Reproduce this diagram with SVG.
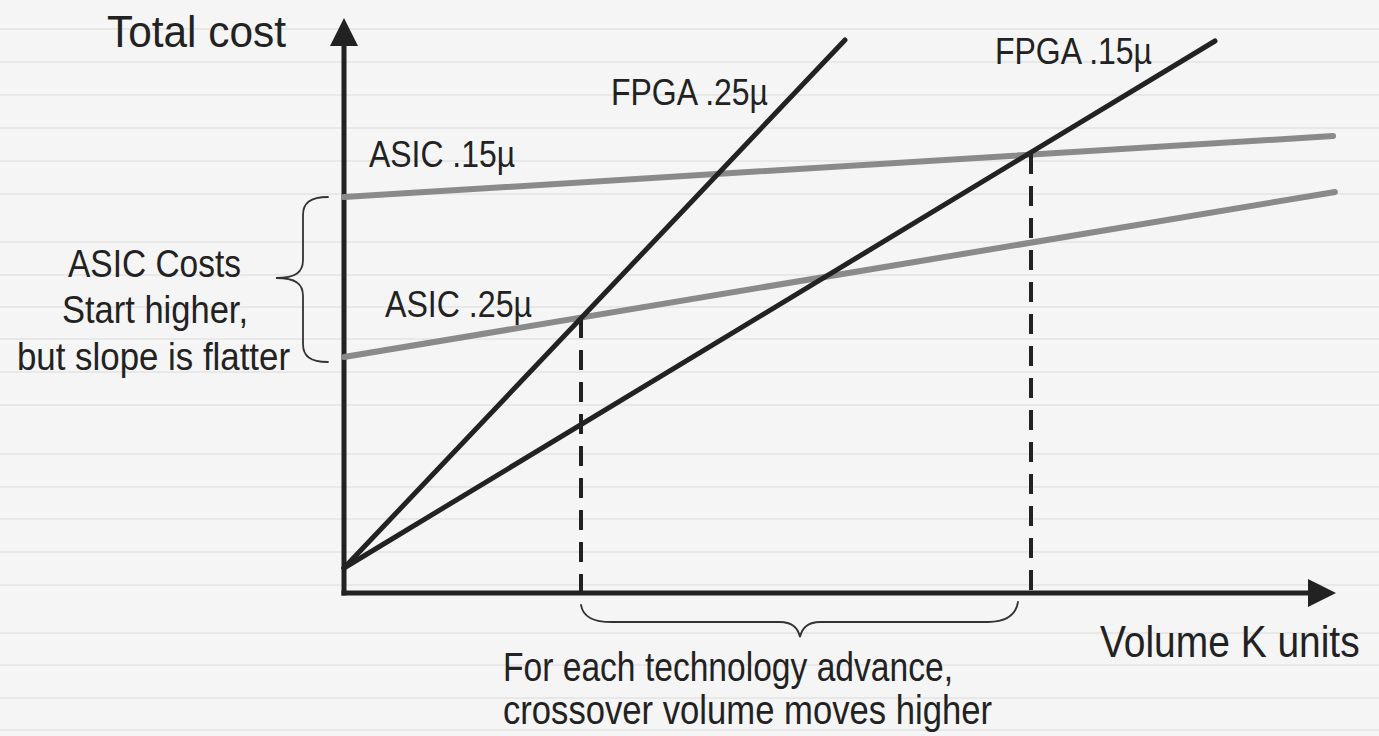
<svg xmlns="http://www.w3.org/2000/svg" width="1379" height="736" viewBox="0 0 1379 736">
  <style>
    .lbl { font-family: "Liberation Sans", Arial, sans-serif; fill: #222; }
    .rule { stroke: #e3e3e3; stroke-width: 1.5; }
    .axis { stroke: #222; stroke-width: 5; fill: none; marker-end: url(#arrow); }
    .fpga { stroke: #222; stroke-width: 5; stroke-linecap: round; fill: none; }
    .asic { stroke: #8a8a8a; stroke-width: 6; stroke-linecap: round; fill: none; }
    .guide { stroke: #222; stroke-width: 4; stroke-dasharray: 20 12; fill: none; }
    .brace { stroke: #333; stroke-width: 1.8; fill: none; stroke-linecap: round; }
  </style>
  <defs>
    <marker id="arrow" viewBox="0 0 28 28" markerWidth="28" markerHeight="28" markerUnits="userSpaceOnUse" refX="2" refY="14" orient="auto">
      <path d="M0,0 L28,14 L0,28 Z" fill="#222"/>
    </marker>
  </defs>

  <!-- ruled paper background -->
  <rect width="1379" height="736" fill="#f5f5f5"/>
  <g id="background-rules" class="rule">
    <line x1="0" y1="29" x2="1379" y2="29"/>
    <line x1="0" y1="62" x2="1379" y2="62"/>
    <line x1="0" y1="95" x2="1379" y2="95"/>
    <line x1="0" y1="128" x2="1379" y2="128"/>
    <line x1="0" y1="161" x2="1379" y2="161"/>
    <line x1="0" y1="194" x2="1379" y2="194"/>
    <line x1="0" y1="242" x2="1379" y2="242"/>
    <line x1="0" y1="275" x2="1379" y2="275"/>
    <line x1="0" y1="307" x2="1379" y2="307"/>
    <line x1="0" y1="339" x2="1379" y2="339"/>
    <line x1="0" y1="372" x2="1379" y2="372"/>
    <line x1="0" y1="405" x2="1379" y2="405"/>
    <line x1="0" y1="454" x2="1379" y2="454"/>
    <line x1="0" y1="487" x2="1379" y2="487"/>
    <line x1="0" y1="519" x2="1379" y2="519"/>
    <line x1="0" y1="552" x2="1379" y2="552"/>
    <line x1="0" y1="585" x2="1379" y2="585"/>
    <line x1="0" y1="633" x2="1379" y2="633"/>
    <line x1="0" y1="665" x2="1379" y2="665"/>
    <line x1="0" y1="698" x2="1379" y2="698"/>
    <line x1="0" y1="730" x2="1379" y2="730"/>
  </g>

  <!-- axes -->
  <g id="axes">
    <line class="axis" x1="344" y1="595.5" x2="344" y2="44"/>
    <line class="axis" x1="341.5" y1="593" x2="1310" y2="593"/>
    <text class="lbl" x="107" y="47" font-size="44" textLength="179" lengthAdjust="spacingAndGlyphs">Total cost</text>
    <text class="lbl" transform="translate(1100,657) scale(0.885,1)" x="0" y="0" font-size="44">Volume K units</text>
  </g>

  <!-- cost curves and crossover guides -->
  <g id="connectors">
    <line class="asic" x1="344" y1="197" x2="1333" y2="136"/>
    <line class="asic" x1="344" y1="357" x2="1335" y2="192"/>
    <line class="fpga" x1="344" y1="568" x2="845" y2="40"/>
    <line class="fpga" x1="344" y1="568" x2="1215" y2="41"/>
    <line class="guide" x1="581" y1="318" x2="581" y2="593"/>
    <line class="guide" x1="1031" y1="154" x2="1031" y2="593"/>
  </g>

  <g id="fpga-025">
    <text class="lbl" x="611" y="105" font-size="37" textLength="157" lengthAdjust="spacingAndGlyphs">FPGA .25µ</text>
  </g>
  <g id="fpga-015">
    <text class="lbl" x="995" y="64" font-size="37" textLength="157" lengthAdjust="spacingAndGlyphs">FPGA .15µ</text>
  </g>
  <g id="asic-015">
    <text class="lbl" x="369" y="167" font-size="37" textLength="146" lengthAdjust="spacingAndGlyphs">ASIC .15µ</text>
  </g>
  <g id="asic-025">
    <text class="lbl" x="385" y="317" font-size="37" textLength="147" lengthAdjust="spacingAndGlyphs">ASIC .25µ</text>
  </g>

  <!-- note on ASIC fixed costs -->
  <g id="asic-note">
    <path class="brace" d="M328,197 C310,197 303,203 303,215 V260 C303,272 296,278 276,278 C296,278 303,284 303,296 V344 C303,356 310,362 328,362"/>
    <text class="lbl" x="68" y="277" font-size="38" textLength="173" lengthAdjust="spacingAndGlyphs">ASIC Costs</text>
    <text class="lbl" x="62" y="323" font-size="38" textLength="186" lengthAdjust="spacingAndGlyphs">Start higher,</text>
    <text class="lbl" x="17" y="370" font-size="38" textLength="273" lengthAdjust="spacingAndGlyphs">but slope is flatter</text>
  </g>

  <!-- note on crossover volume -->
  <g id="crossover-note">
    <path class="brace" d="M581,605 C583,617 593,622 612,622 H780 C792,622 798,628 800,637 C802,628 808,622 820,622 H988 C1006,622 1016,615 1018,602"/>
    <text class="lbl" x="503" y="681" font-size="41" textLength="450" lengthAdjust="spacingAndGlyphs">For each technology advance,</text>
    <text class="lbl" x="503" y="724" font-size="41" textLength="489" lengthAdjust="spacingAndGlyphs">crossover volume moves higher</text>
  </g>
</svg>
